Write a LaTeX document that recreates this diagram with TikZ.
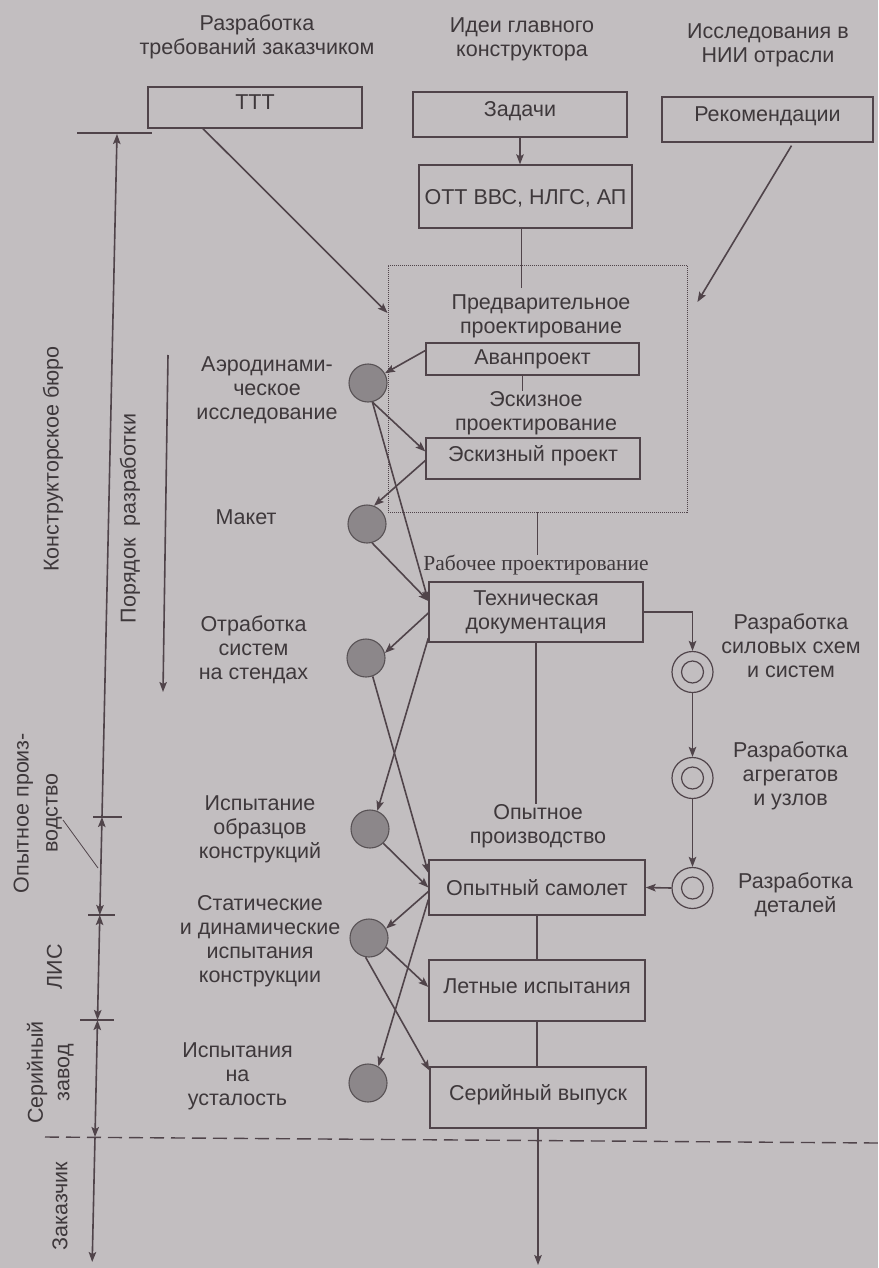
\documentclass[tikz,border=0pt]{standalone}
\usepackage{fontspec}
\setmainfont{Liberation Sans}
\newfontfamily\seriffont{Liberation Serif}
\usetikzlibrary{arrows.meta}
\definecolor{paper}{RGB}{194,190,192}
\definecolor{ink}{RGB}{80,68,74}
\definecolor{txt}{RGB}{62,56,59}
\definecolor{diskfill}{RGB}{140,135,138}
\definecolor{diskline}{RGB}{88,82,85}
\begin{document}
\begin{tikzpicture}[x=1pt,y=-1pt,
  >={Stealth[length=10pt,width=7.5pt,inset=2pt]},
  every node/.style={text=txt,inner sep=0pt,font=\fontsize{21.5}{24}\selectfont},
  lbl/.style={align=center},
  box/.style={draw=ink,line width=1.3pt,align=center},
  up/.style={text height=15pt,text depth=10pt},
  low/.style={text height=21pt,text depth=4.5pt},
  arr/.style={draw=ink,line width=1.6pt,->},
  dimarr/.style={draw=ink,line width=1.6pt},
  ln/.style={draw=ink,line width=1.4pt},
  thinln/.style={draw=ink,line width=0.8pt},
  tick/.style={draw=ink,line width=1.1pt},
  disk/.style={circle,draw=diskline,fill=diskfill,line width=1.1pt,minimum size=38pt},
  ring/.style={circle,draw=ink,line width=1.2pt,minimum size=41pt},
  rot/.style={rotate=90,align=center},
  ]
\fill[paper] (0,0) rectangle (878,1268);
\useasboundingbox (0,0) rectangle (878,1268);

% ---- column headings
\node[lbl] (h1) at (257,36.5) {Разработка\\требований заказчиком};
\node[lbl] (h2) at (522,39) {Идеи главного\\конструктора};
\node[lbl] (h3) at (768,45) {Исследования в\\НИИ отрасли};

% ---- top boxes
\node[box,up,minimum width=214pt,minimum height=41pt] (ttt) at (255,107.5) {ТТТ};
\node[box,up,minimum width=214pt,minimum height=45pt] (zad) at (520,114.5) {Задачи};
\node[box,up,minimum width=211pt,minimum height=45pt] (rek) at (767.5,119.5) {Рекомендации};
\node[box,low,minimum width=213pt,minimum height=63pt] (ott) at (525.5,196.5) {ОТТ ВВС, НЛГС, АП};

% ---- preliminary design frame
\node[draw=ink,line width=0.9pt,dash pattern=on 1pt off 1pt,minimum width=299pt,minimum height=247pt] (dot) at (537.5,388.5) {};
\node[lbl] (pred) at (541,316) {Предварительное\\проектирование};
\node[box,minimum width=213pt,minimum height=32pt] (av) at (532.5,359) {Аванпроект};
\node[lbl] (eskt) at (536,413) {Эскизное\\проектирование};
\node[box,up,minimum width=214pt,minimum height=41pt] (esk) at (533,458.5) {Эскизный проект};

% ---- main chain
\node[font=\seriffont\fontsize{21.5}{24}\selectfont] (rab) at (536,565) {Рабочее проектирование};
\node[box,minimum width=214pt,minimum height=60pt] (td) at (536,612) {Техническая\\документация};
\node[lbl] (opt) at (538,826) {Опытное\\производство};
\node[box,minimum width=216pt,minimum height=55pt] (os) at (537,887.5) {Опытный самолет};
\node[box,up,minimum width=216pt,minimum height=61pt] (lt) at (537,990.5) {Летные испытания};
\node[box,up,minimum width=216pt,minimum height=61pt] (sv) at (538,1097.5) {Серийный выпуск};
\coordinate (out) at (538,1265);

% ---- left test stages
\node[disk] (c1) at (368,383) {};
\node[disk] (c2) at (367,524) {};
\node[disk] (c3) at (366,658) {};
\node[disk] (c4) at (370,829) {};
\node[disk] (c5) at (369,938) {};
\node[disk] (c6) at (368,1083) {};
\node[lbl] (l1) at (267,390.5) {Аэродинами-\\ческое\\исследование};
\node[lbl] (l2) at (246,517.5) {Макет};
\node[lbl] (l3) at (253.5,650) {Отработка\\систем\\на стендах};
\node[lbl] (l4) at (260,829) {Испытание\\образцов\\конструкций};
\node[lbl] (l5) at (260,941.5) {Статические\\и динамические\\испытания\\конструкции};
\node[lbl] (l6) at (237.5,1076.5) {Испытания\\на\\усталость};

% ---- right design chain
\node[ring] (r1) at (692.5,672) {};
\node[ring] (r2) at (692.5,778) {};
\node[ring] (r3) at (692.5,888) {};
\foreach \r in {r1,r2,r3} \draw[ink,line width=1.2pt] (\r) circle (11);
\node[lbl] (q1) at (791,645.5) {Разработка\\силовых схем\\и систем};
\node[lbl] (q2) at (790.5,776) {Разработка\\агрегатов\\и узлов};
\node[lbl] (q3) at (795.5,894.5) {Разработка\\деталей};

% ---- connectors, top part
\draw[arr] (zad.south) -- (zad.south |- ott.north);
\draw[ln,shorten >=6pt] ([xshift=-4pt]ott.south) -- ([xshift=-4pt]ott.south |- pred.north);
\draw[arr] ([xshift=-52pt]ttt.south) -- ([yshift=75.5pt]dot.west);
\draw[arr] ([xshift=24pt,yshift=-3pt]rek.south) -- ([xshift=10pt,yshift=86.5pt]dot.east);
\draw[ln] ([xshift=-10pt]av.south) -- ([xshift=-10pt]av.south |- eskt.north);
\draw[ln] (dot.south) -- (dot.south |- rab.north);
\draw[ln] (td.south) -- (td.south |- opt.north);
\draw[ln] (os.south) -- (os.south |- lt.north);
\draw[ln] (lt.south) -- (lt.south |- sv.north);
\draw[arr] (sv.south) -- (out);

% ---- connectors to and from the test stages
\draw[arr] ([yshift=8.5pt]av.west) -- (c1.30);
\draw[arr] (c1.-77) -- ([yshift=7pt]esk.west);
\draw[arr] (c1.-77) -- ([yshift=11pt]td.west);
\draw[arr] ([yshift=-2pt]esk.west) -- (c2.69);
\draw[arr] (c2.-75) -- ([yshift=11pt]td.west);
\draw[arr] ([yshift=-1pt]td.west) -- (c3.15);
\draw[arr] ([yshift=-26pt]td.west) -- (c4.68);
\draw[arr] (c3.-70) -- ([yshift=14.5pt]os.west);
\draw[arr] (c4.-47) -- (os.west);
\draw[arr] ([yshift=-4pt]os.west) -- (c5.29);
\draw[arr] ([yshift=-12pt]os.west) -- (c6.58);
\draw[arr] (c5.-29) -- ([yshift=3.5pt]lt.west);
\draw[arr] (c5.-100) -- ([yshift=-4pt]sv.north west);

% ---- right chain connectors
\draw[arr] (td.east) -| (r1.north);
\draw[arr] (r1.south) -- (r2.north);
\draw[arr] (r2.south) -- (r3.north);
\draw[arr] (r3.west) -- (os.east);

% ---- organisation scale on the left
\coordinate (a0) at (117,134);
\coordinate (a1) at (102,817);
\coordinate (a2) at (99.8,915);
\coordinate (a3) at (97.5,1020);
\coordinate (a4) at (95,1137);
\coordinate (a5) at (92.2,1262);
\draw[tick] (77,133) -- (152,133);
\draw[tick] (93,817) -- (122,817);
\draw[tick] (88,915) -- (115,915);
\draw[tick] (80,1020) -- (114,1020);
\draw[dimarr,->] (a1) -- (a0);
\draw[dimarr,<->] (a1) -- (a2);
\draw[dimarr,<->] (a2) -- (a3);
\draw[dimarr,<->] (a3) -- (a4);
\draw[dimarr,->] (a4) -- (a5);
\draw[ink,line width=1.4pt,dash pattern=on 14pt off 7pt] (45,1137) -- (878,1143);

\node[rot] (kb) at (53,459) {Конструкторское бюро};
\node[rot] (por) at (130,518.5) {Порядок\ \ разработки};
\coordinate (p0) at (168,355);
\coordinate (p1) at (163,692);
\draw[dimarr,->] (p0) -- (p1);
\node[rot,font=\fontsize{21.5}{29}\selectfont] (op) at (37.7,813) {Опытное произ-\\водство};
\coordinate (lead0) at (63,820);
\coordinate (lead1) at (98,868);
\draw[thinln] (lead0) -- (lead1);
\node[rot] (lis) at (54.5,967) {ЛИС};
\node[rot,font=\fontsize{21.5}{26.5}\selectfont] (sz) at (50.3,1072.5) {Серийный\\завод};
\node[rot] (zk) at (60,1206) {Заказчик};
\end{tikzpicture}
\end{document}
